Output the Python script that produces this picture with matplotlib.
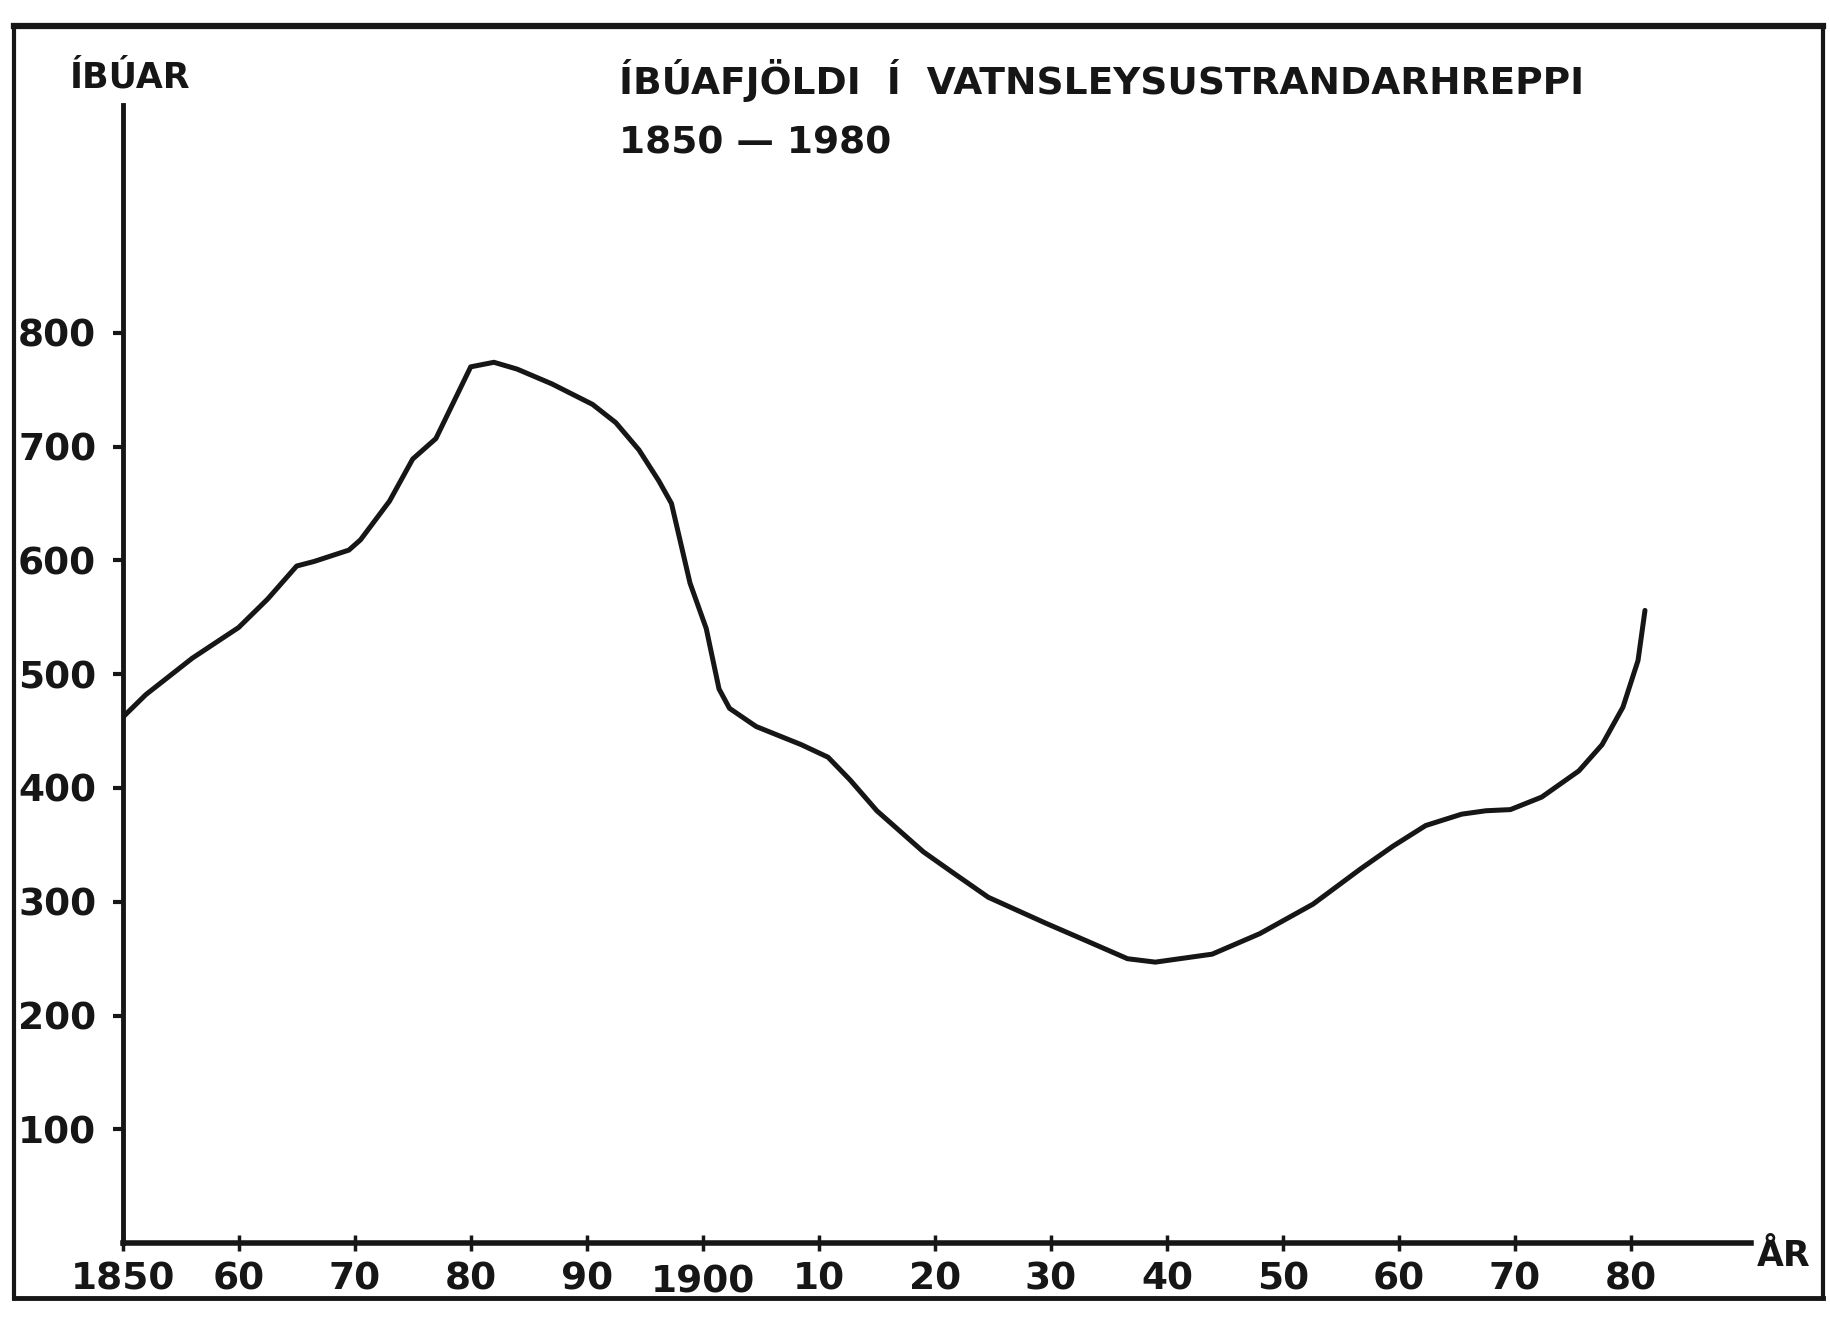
import matplotlib
matplotlib.use("Agg")
import matplotlib.pyplot as plt
from matplotlib.lines import Line2D

# Íbúafjöldi í Vatnsleysustrandarhreppi, lesið af teikningunni
years = [1850, 1852, 1856, 1860, 1862.5, 1865, 1866.5, 1869.5, 1870.5, 1873,
         1875, 1877, 1880, 1882, 1884, 1887, 1890.5, 1892.5, 1894.5, 1896.2,
         1897.3, 1898.9, 1900.3, 1901.4, 1902.3, 1904.6, 1908.5, 1910.8,
         1912.7, 1915, 1919, 1921.5, 1924.6, 1929.6, 1933, 1936.6, 1939,
         1943.9, 1948, 1952.6, 1956.7, 1959.5, 1962.3, 1965.4, 1967.5,
         1969.6, 1972.3, 1975.5, 1977.5, 1979.3, 1980.6, 1981.2]
population = [462, 482, 514, 541, 566, 595, 599, 609, 618, 652,
              689, 707, 770, 774, 768, 755, 737, 721, 697, 670,
              650, 580, 540, 487, 470, 454, 438, 427,
              407, 380, 344, 326, 304, 281, 266, 250, 247,
              254, 272, 298, 329, 349, 367, 377, 380,
              381, 392, 415, 438, 471, 512, 556]

x_ticks = [1850, 1860, 1870, 1880, 1890, 1900, 1910, 1920, 1930, 1940,
           1950, 1960, 1970, 1980]
x_labels = ["1850", "60", "70", "80", "90", "1900", "10", "20", "30", "40",
            "50", "60", "70", "80"]
y_ticks = [100, 200, 300, 400, 500, 600, 700, 800]

INK = "#161616"
FONT = ["DejaVu Sans"]

fig = plt.figure(figsize=(18.3, 13.18), dpi=100)
fig.patch.set_facecolor("white")
ax = fig.add_axes([0.067, 0.0567, 0.8896, 0.8636])
ax.set_facecolor("white")

ax.plot(years, population, color=INK, lw=3.6, solid_capstyle="round",
        solid_joinstyle="round")

ax.set_xlim(1850, 1990.3)
ax.set_ylim(0, 1000)
ax.set_xticks(x_ticks)
ax.set_xticklabels(x_labels)
ax.set_yticks(y_ticks)

for spine in ("top", "right"):
    ax.spines[spine].set_visible(False)
ax.spines["left"].set_linewidth(3.5)
ax.spines["bottom"].set_linewidth(4)
for spine in ("left", "bottom"):
    ax.spines[spine].set_color(INK)

ax.tick_params(axis="y", direction="out", length=7, width=3, colors=INK,
               pad=12, labelsize=27)
ax.tick_params(axis="x", direction="inout", length=12, width=2.5, colors=INK,
               pad=7, labelsize=27)
for lab in ax.get_xticklabels() + ax.get_yticklabels():
    lab.set_fontweight("bold")
    lab.set_family(FONT)
ax.get_xticklabels()[5].set_y(-0.003)

# ásaheiti
fig.text(0.038, 0.941, "ÍBÚAR", fontsize=25, fontweight="bold", color=INK,
         family=FONT, ha="left", va="center")
fig.text(0.960, 0.047, "ÅR", fontsize=25, fontweight="bold", color=INK,
         family=FONT, ha="left", va="center")

# titill
fig.text(0.338, 0.939, "ÍBÚAFJÖLDI  Í  VATNSLEYSUSTRANDARHREPPI", fontsize=27,
         fontweight="bold", color=INK, family=FONT, ha="left", va="center")
fig.text(0.338, 0.891, "1850 — 1980", fontsize=27, fontweight="bold",
         color=INK, family=FONT, ha="left", va="center")

# rammi utan um myndina
left, right, bottom, top = 0.0077, 0.996, 0.015, 0.9805
fig.add_artist(Line2D([left, right], [top, top], color=INK, lw=4.5))
fig.add_artist(Line2D([left, right], [bottom, bottom], color=INK, lw=3.5))
fig.add_artist(Line2D([left, left], [bottom, top], color=INK, lw=3))
fig.add_artist(Line2D([right, right], [bottom, top], color=INK, lw=3))

fig.savefig("out.png", dpi=100, facecolor="white")
